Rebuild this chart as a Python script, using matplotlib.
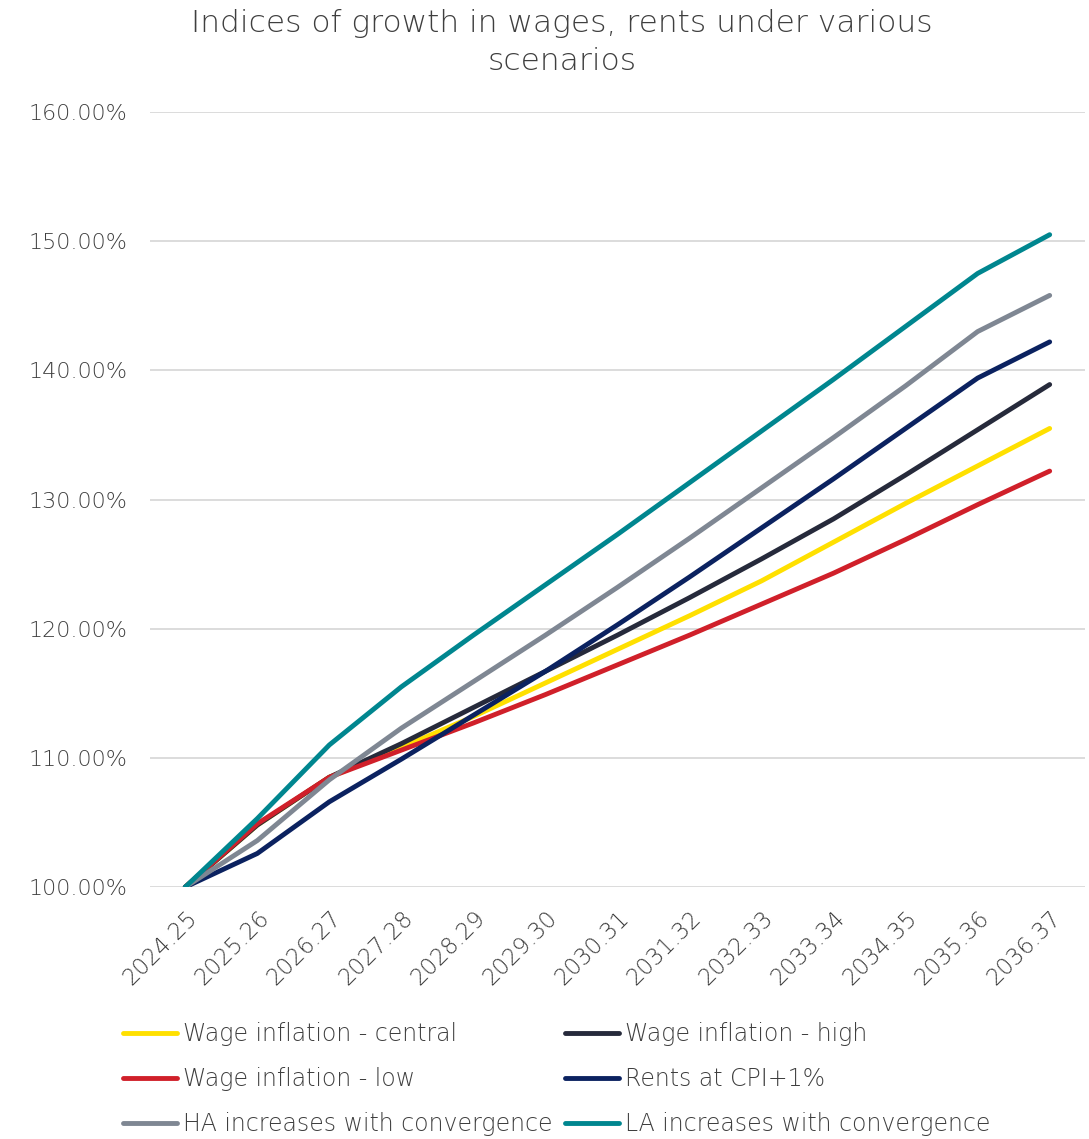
import matplotlib
matplotlib.use("Agg")
import matplotlib.pyplot as plt
from matplotlib.ticker import FuncFormatter, MultipleLocator

years = ["2024.25", "2025.26", "2026.27", "2027.28", "2028.29", "2029.30", "2030.31",
         "2031.32", "2032.33", "2033.34", "2034.35", "2035.36", "2036.37"]

wage_central = [100, 104.8, 108.5, 110.8, 113.2, 115.8, 118.4, 121.0, 123.7, 126.7, 129.7, 132.6, 135.5]
wage_high    = [100, 104.8, 108.5, 111.1, 113.9, 116.7, 119.5, 122.4, 125.4, 128.5, 131.9, 135.4, 138.9]
wage_low     = [100, 104.9, 108.5, 110.6, 112.7, 114.9, 117.2, 119.5, 121.9, 124.3, 126.9, 129.6, 132.2]
rents_cpi1   = [100, 102.6, 106.6, 109.9, 113.3, 116.7, 120.3, 124.0, 127.8, 131.6, 135.5, 139.4, 142.2]
ha_conv      = [100, 103.6, 108.3, 112.3, 115.9, 119.5, 123.2, 127.0, 130.9, 134.8, 138.8, 143.0, 145.8]
la_conv      = [100, 105.3, 111.0, 115.5, 119.5, 123.4, 127.3, 131.3, 135.3, 139.3, 143.4, 147.5, 150.5]

series = [
    ("Wage inflation - central", wage_central, "#FFE000"),
    ("Wage inflation - high", wage_high, "#262A3B"),
    ("Wage inflation - low", wage_low, "#D0202A"),
    ("Rents at CPI+1%", rents_cpi1, "#0B2260"),
    ("HA increases with convergence", ha_conv, "#7F8793"),
    ("LA increases with convergence", la_conv, "#00868F"),
]

plt.rcParams['font.family'] = ['DejaVu Sans']
plt.rcParams['font.weight'] = 'light'
text_color = "#3F3F3F"

fig = plt.figure(figsize=(10.89, 11.39), dpi=100)
ax = fig.add_axes([0.1377, 0.2212, 0.8586, 0.6805])

x = list(range(len(years)))
lines = {}
for name, vals, col in series:
    ln, = ax.plot(x, vals, color=col, lw=3.5, solid_capstyle='round', solid_joinstyle='round', label=name)
    lines[name] = ln

ax.set_xlim(-0.49, 12.49)
ax.set_ylim(100, 160)
ax.yaxis.set_major_locator(MultipleLocator(10))
ax.yaxis.set_major_formatter(FuncFormatter(lambda v, p: f"{v:.2f}%"))
ax.grid(axis='y', color="#D9D9D9", lw=1.3)
ax.set_axisbelow(True)
for s in ax.spines.values():
    s.set_visible(False)
ax.set_xticks(x)
ax.set_xticklabels(years, rotation=45, ha='right', rotation_mode='anchor')
ax.tick_params(axis='x', length=0, labelsize=16.5, colors=text_color, pad=14)
ax.tick_params(axis='y', length=0, labelsize=16, colors=text_color, pad=16)

fig.text(0.516, 1 - 9 / 1139, "Indices of growth in wages, rents under various\nscenarios",
         ha='center', va='top', fontsize=22.5, color=text_color, linespacing=1.38)

order = ["Wage inflation - central", "Wage inflation - low", "HA increases with convergence",
         "Wage inflation - high", "Rents at CPI+1%", "LA increases with convergence"]
leg = fig.legend([lines[n] for n in order], order, ncol=2, loc='upper left',
                 bbox_to_anchor=(123 / 1089, 1 - 1022 / 1139), frameon=False, fontsize=17,
                 handlelength=2.3, handletextpad=0.25, columnspacing=0.5,
                 labelspacing=0.9, borderaxespad=0, borderpad=0)
for t in leg.get_texts():
    t.set_color(text_color)

fig.savefig("out.png", dpi=100)
